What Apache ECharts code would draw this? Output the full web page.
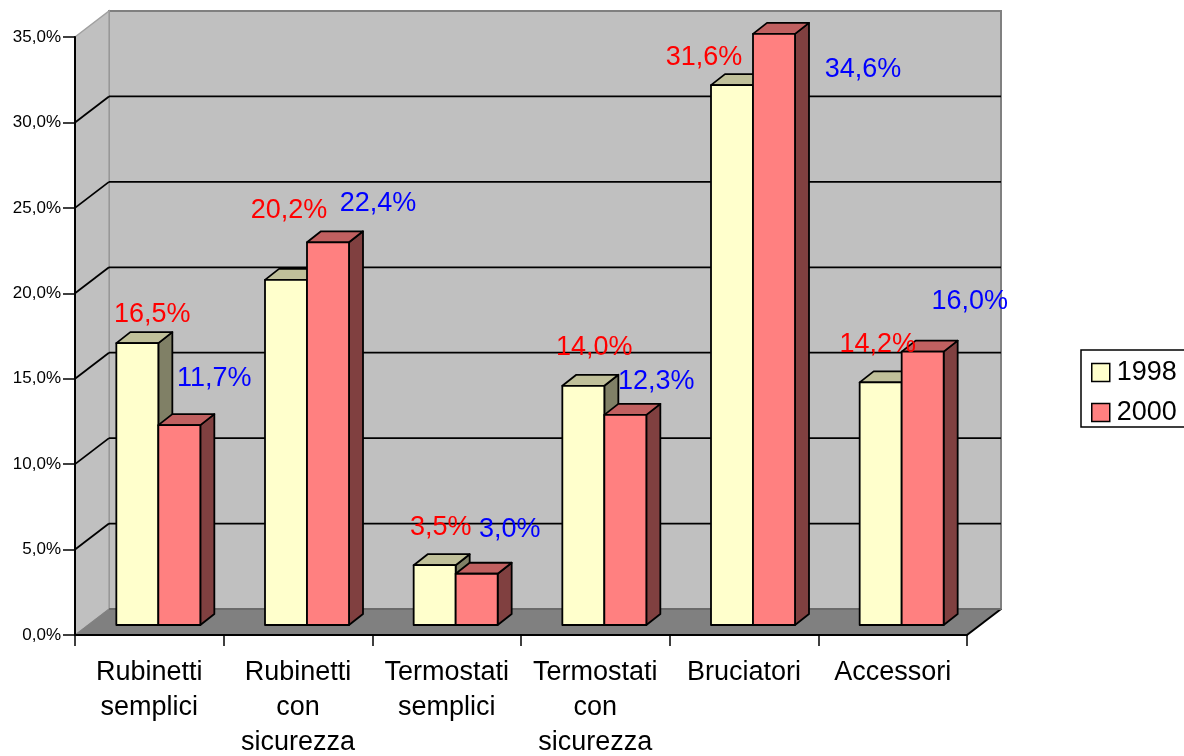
<!DOCTYPE html>
<html>
<head>
<meta charset="utf-8">
<script src="https://cdn.jsdelivr.net/npm/echarts@6/dist/echarts.min.js"></script>
<style>
  html, body { margin: 0; padding: 0; background: #fff; }
  #main { width: 1184px; height: 756px; }
</style>
</head>
<body>
<div id="main"></div>
<script>
// data
const categories = ['Rubinetti semplici', 'Rubinetti con sicurezza', 'Termostati semplici',
  'Termostati con sicurezza', 'Bruciatori', 'Accessori'];
const seriesNames = ['1998', '2000'];
const val1998 = [16.5, 20.2, 3.5, 14.0, 31.6, 14.2];
const val2000 = [11.7, 22.4, 3.0, 12.3, 34.6, 16.0];
const yTicks = [0, 5, 10, 15, 20, 25, 30, 35];

// label nudges (px, relative to the bar's front-top centre) - Excel put them oddly
const nudge1998 = [[15, -29], [3, -69], [6, -38], [11, -38], [-28, -28], [-3, -38]];
const nudge2000 = [[35, -47], [50, -39], [33, -44], [31, -33], [89, 36], [47, -50]];

const FONT = "'Liberation Sans', Arial, sans-serif";
const DX = 34, DY = -26;          // depth of the box
const BAR_DX = 9, BAR_DY = -10;   // bars sit a bit back from the front
const BDX = 14, BDY = -11;        // depth of each bar
const BAR_RATIO = 42 / 148.67;

const fmtPct = v => v.toFixed(1).replace('.', ',') + '%';

const C = {
  wall: '#c0c0c0', floor: '#808080', edge: '#808080',
  yel: ['#ffffcc', '#c0c09a', '#808066'],
  red: ['#ff8080', '#c06060', '#804040']
};

function renderFrame(params, api) {
  const cs = params.coordSys;
  const x0 = cs.x, x1 = cs.x + cs.width;
  const yMax = yTicks[yTicks.length - 1];
  const yb = api.coord([0, 0])[1];
  const yt = api.coord([0, yMax])[1];
  const kids = [];
  // back wall
  kids.push({ type: 'polygon', shape: { points: [[x0 + DX, yt + DY], [x1 + DX, yt + DY], [x1 + DX, yb + DY], [x0 + DX, yb + DY]] },
    style: { fill: C.wall, stroke: C.edge, lineWidth: 2 } });
  // side wall
  kids.push({ type: 'polygon', shape: { points: [[x0, yt], [x0 + DX, yt + DY], [x0 + DX, yb + DY], [x0, yb]] },
    style: { fill: C.wall, stroke: '#a0a0a0', lineWidth: 1.5 } });
  // floor
  kids.push({ type: 'polygon', shape: { points: [[x0, yb], [x1, yb], [x1 + DX, yb + DY], [x0 + DX, yb + DY]] },
    style: { fill: C.floor, stroke: C.floor, lineWidth: 1 } });
  kids.push({ type: 'line', shape: { x1: x1, y1: yb, x2: x1 + DX, y2: yb + DY }, style: { stroke: '#000', lineWidth: 2 } });
  kids.push({ type: 'line', shape: { x1: x0 + DX, y1: yb + DY, x2: x1 + DX, y2: yb + DY }, style: { stroke: '#6a6a6a', lineWidth: 2 } });
  // gridlines
  yTicks.forEach(v => {
    if (v <= 0 || v >= yMax) return;
    const y = api.coord([0, v])[1];
    kids.push({ type: 'line', shape: { x1: x0, y1: y, x2: x0 + DX, y2: y + DY }, style: { stroke: '#000', lineWidth: 1.8 } });
    kids.push({ type: 'line', shape: { x1: x0 + DX, y1: y + DY, x2: x1 + DX, y2: y + DY }, style: { stroke: '#000', lineWidth: 1.8 } });
  });
  return { type: 'group', children: kids };
}

function barRenderer(idx, cols, nudges) {
  return function (params, api) {
    const ci = api.value(0), v = api.value(1);
    const top = api.coord([ci, v]);
    const base = api.coord([ci, 0]);
    const bw = api.size([1, 0])[0] * BAR_RATIO;
    const xl = top[0] + BAR_DX + (idx === 0 ? -bw : 0);
    const xr = xl + bw;
    const yt = top[1] + BAR_DY, yb = base[1] + BAR_DY;
    const st = { stroke: '#000', lineWidth: 1.8, lineJoin: 'round' };
    const n = nudges[params.dataIndex];
    return {
      type: 'group',
      children: [
        { type: 'polygon', shape: { points: [[xr, yt], [xr + BDX, yt + BDY], [xr + BDX, yb + BDY], [xr, yb]] }, style: Object.assign({ fill: cols[2] }, st) },
        { type: 'polygon', shape: { points: [[xl, yt], [xl + BDX, yt + BDY], [xr + BDX, yt + BDY], [xr, yt]] }, style: Object.assign({ fill: cols[1] }, st) },
        { type: 'rect', shape: { x: xl, y: yt, width: bw, height: yb - yt }, style: Object.assign({ fill: cols[0] }, st) },
        { type: 'text', z2: 100, style: { text: fmtPct(v), x: (xl + xr) / 2 + n[0], y: yt + n[1],
          fill: idx === 0 ? '#ff0000' : '#0000ff', fontSize: 27, fontFamily: FONT, align: 'center', verticalAlign: 'middle' } }
      ]
    };
  };
}

const chart = echarts.init(document.getElementById('main'), null, { renderer: 'canvas' });
chart.setOption({
  backgroundColor: '#fff',
  animation: false,
  grid: { left: 75, top: 37, right: 217, bottom: 121, containLabel: false, outerBoundsMode: 'none' },
  legend: {
    data: seriesNames,
    orient: 'vertical',
    left: 1081, top: 350,
    padding: [9, 20, 1, 10],
    itemWidth: 18, itemHeight: 18, itemGap: 13,
    icon: 'rect',
    borderColor: '#000', borderWidth: 1.5,
    itemStyle: { borderColor: '#000', borderWidth: 1.5 },
    textStyle: { fontSize: 27, fontFamily: FONT, color: '#000', lineHeight: 27, padding: [0, 0, 0, 2] }
  },
  xAxis: {
    type: 'category',
    data: categories,
    z: 5,
    axisLine: { lineStyle: { color: '#000', width: 2 } },
    axisTick: { show: true, interval: 0, length: 11, lineStyle: { color: '#000', width: 1.5 } },
    axisLabel: {
      interval: 0, margin: 20, fontSize: 27, lineHeight: 35, fontFamily: FONT, color: '#000',
      formatter: s => s.replace(/ /g, '\n')
    },
    splitLine: { show: false }
  },
  yAxis: {
    type: 'value',
    min: yTicks[0], max: yTicks[yTicks.length - 1], interval: yTicks[1] - yTicks[0],
    z: 5,
    axisLine: { show: true, lineStyle: { color: '#000', width: 2 } },
    axisTick: { show: true, length: 12, lineStyle: { color: '#000', width: 1.5 } },
    axisLabel: { margin: 14, fontSize: 17, fontFamily: FONT, color: '#000', formatter: fmtPct },
    splitLine: { show: false }
  },
  series: [
    { name: 'frame', type: 'custom', z: 1, clip: false, silent: true, data: [[0, 0]], renderItem: renderFrame },
    { name: seriesNames[0], type: 'custom', z: 2, clip: false, itemStyle: { color: C.yel[0] },
      data: val1998.map((v, i) => [i, v]), renderItem: barRenderer(0, C.yel, nudge1998) },
    { name: seriesNames[1], type: 'custom', z: 2, clip: false, itemStyle: { color: C.red[0] },
      data: val2000.map((v, i) => [i, v]), renderItem: barRenderer(1, C.red, nudge2000) }
  ]
});
</script>
</body>
</html>
